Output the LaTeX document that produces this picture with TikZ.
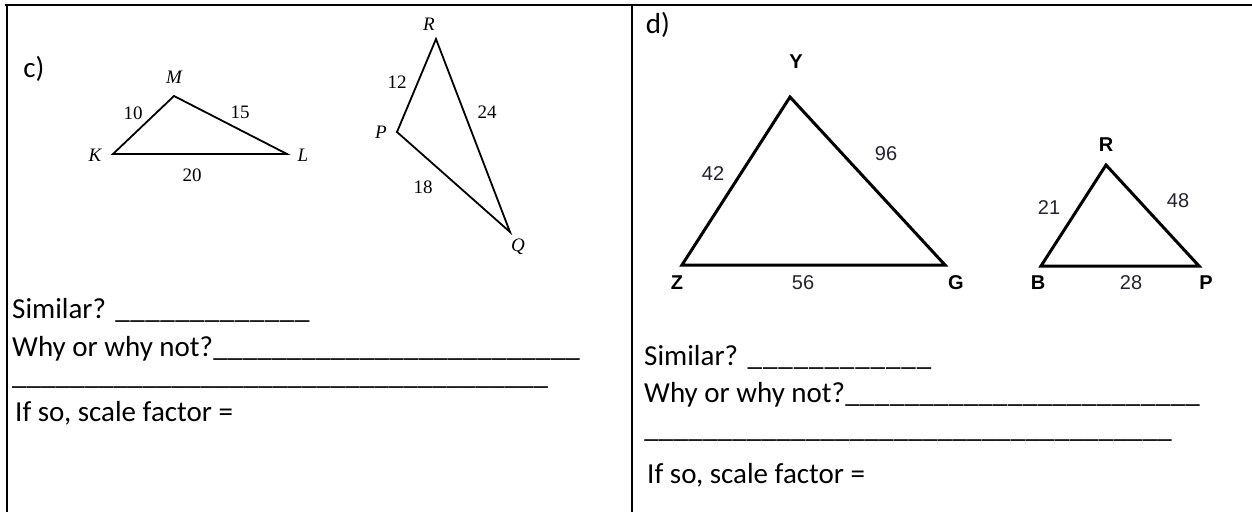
\documentclass[tikz,border=0pt]{standalone}
\usepackage{fontspec}
\setmainfont{Carlito}
\newfontfamily\arialf{Liberation Sans}
\newfontfamily\tnrf{Liberation Serif}
\newcommand\fillline[2]{\hbox to #1{#2\xleaders\hbox{\_}\hfill}}
\definecolor{numcol}{RGB}{34,34,48}
\begin{document}
\begin{tikzpicture}[x=1pt,y=-1pt,
  rule/.style={line width=2pt},
  tric/.style={line width=1.8pt, line join=miter},
  trid/.style={line width=3pt, line join=miter},
  lblc/.style={inner sep=0pt, font=\tnrf\fontsize{19}{19}\selectfont},
  lbld/.style={inner sep=0pt, font=\arialf\bfseries\fontsize{20}{20}\selectfont},
  numd/.style={inner sep=0pt, text=numcol, font=\arialf\fontsize{20}{20}\selectfont},
  txt/.style={inner sep=0pt, anchor=base west, font=\fontsize{29}{29}\selectfont}]
\useasboundingbox (0,0) rectangle (1252,512);
% table rules
\draw[rule] (5,5) -- (1252,5);
\draw[rule] (7,5) -- (7,512);
\draw[rule] (632,5) -- (632,512);
% ---------- c)
\node[txt, anchor=center] (clab) at (34,69) {c)};
\coordinate (K) at (113,154);
\coordinate (M) at (174,96);
\coordinate (L) at (287,154);
\draw[tric] (K) -- (M) -- (L) -- cycle;
\node[lblc] (tK) at (95,155) {\itshape K};
\node[lblc] (tM) at (174,77) {\itshape M};
\node[lblc] (tL) at (303,155) {\itshape L};
\node[lblc] (n10) at (133,113) {10};
\node[lblc] (n15) at (240,112) {15};
\node[lblc] (n20) at (192,175) {20};
\coordinate (R) at (436,39);
\coordinate (P) at (397,132);
\coordinate (Q) at (510,232);
\draw[tric] (R) -- (P) -- (Q) -- cycle;
\node[lblc] (tR) at (429,24) {\itshape R};
\node[lblc] (tP) at (381,132) {\itshape P};
\node[lblc] (tQ) at (518,247) {\itshape Q};
\node[lblc] (n12) at (397,82) {12};
\node[lblc] (n24) at (487,112) {24};
\node[lblc] (n18) at (423,187) {18};
\node[txt] (cs) at (12,318) {\fillline{298pt}{Similar? }};
\node[txt] (cw) at (12,356) {\fillline{568pt}{Why or why not?}};
\node[txt] (cb) at (12,384) {\fillline{536pt}{}};
\node[txt] (ci) at (15,421) {If so, scale factor =};
% ---------- d)
\node[txt, anchor=center] (dlab) at (658,25) {d)};
\coordinate (Y) at (790,97);
\coordinate (Z) at (682,265);
\coordinate (G) at (945,265);
\draw[trid] (Y) -- (Z) -- (G) -- cycle;
\node[lbld] (tY) at (796,62) {Y};
\node[lbld] (tZ) at (677,283) {Z};
\node[lbld] (tG) at (956,283) {G};
\node[numd] (n42) at (713,174) {42};
\node[numd] (n96) at (886,154) {96};
\node[numd] (n56) at (803,283) {56};
\coordinate (R2) at (1106,165);
\coordinate (B) at (1041,266);
\coordinate (P2) at (1199,266);
\draw[trid] (R2) -- (B) -- (P2) -- cycle;
\node[lbld] (tR2) at (1106,145) {R};
\node[lbld] (tB) at (1038,283) {B};
\node[lbld] (tP2) at (1206,283) {P};
\node[numd] (n21) at (1049,208) {21};
\node[numd] (n48) at (1178,201) {48};
\node[numd] (n28) at (1131,283) {28};
\node[txt] (ds) at (644,365) {\fillline{288pt}{Similar? }};
\node[txt] (dw) at (644,402) {\fillline{556pt}{Why or why not?}};
\node[txt] (db) at (644,437) {\fillline{528pt}{}};
\node[txt] (di) at (647,483) {If so, scale factor =};
\end{tikzpicture}
\end{document}
